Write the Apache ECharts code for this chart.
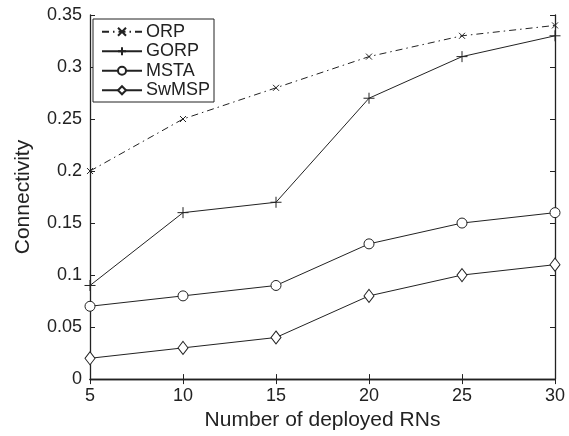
<!DOCTYPE html>
<html>
<head>
<meta charset="utf-8">
<script src="https://cdn.jsdelivr.net/npm/echarts@6/dist/echarts.min.js"></script>
<style>html,body{margin:0;padding:0;background:#fff}#c{width:569px;height:436px}</style>
</head>
<body>
<div id="c"></div>
<script>
var xValues = [5, 10, 15, 20, 25, 30];
var orp = [0.20, 0.25, 0.28, 0.31, 0.33, 0.34];
var gorp = [0.09, 0.16, 0.17, 0.27, 0.31, 0.33];
var msta = [0.07, 0.08, 0.09, 0.13, 0.15, 0.16];
var swmsp = [0.02, 0.03, 0.04, 0.08, 0.10, 0.11];
var seriesNames = ['ORP', 'GORP', 'MSTA', 'SwMSP'];

function pairs(arr){ return xValues.map(function(x,i){ return [x, arr[i]]; }); }

var FONT = 'Liberation Sans, Arial, Helvetica, sans-serif';
var INK = '#222';
var plusPath = 'path://M0,5L10,5M5,0L5,10';
var crossPath = 'path://M0,0L10,10M10,0L0,10';

var chart = echarts.init(document.getElementById('c'), null, {renderer:'canvas'});
var axisCommon = {
  axisLine:{show:true, lineStyle:{color:INK, width:1.3}},
  axisTick:{show:true, inside:true, length:5, lineStyle:{color:INK, width:1}},
  splitLine:{show:false}
};
chart.setOption({
  animation:false,
  backgroundColor:'#fff',
  grid:{left:90, right:14, top:15, bottom:56, containLabel:false},
  legend:{
    orient:'vertical', left:93, top:19,
    data: seriesNames,
    borderColor:INK, borderWidth:1, borderRadius:0,
    padding:[3,4,2,8],
    itemWidth:40, itemHeight:10, itemGap:0,
    textStyle:{fontFamily:FONT, fontSize:18, color:INK, lineHeight:19.5, padding:[0,0,0,-1]},
    backgroundColor:'#fff'
  },
  xAxis:[
    Object.assign({type:'value', position:'bottom', min:5, max:30, interval:5,
      name:'Number of deployed RNs', nameLocation:'middle', nameGap:30,
      nameTextStyle:{fontFamily:FONT, fontSize:21, color:INK},
      axisLabel:{fontFamily:FONT, fontSize:18, color:INK, margin:8}}, axisCommon),
    Object.assign({type:'value', position:'top', min:5, max:30, interval:5,
      axisLabel:{show:false}}, axisCommon)
  ],
  yAxis:[
    Object.assign({type:'value', position:'left', min:0, max:0.35, interval:0.05,
      name:'Connectivity', nameLocation:'middle', nameGap:56,
      nameTextStyle:{fontFamily:FONT, fontSize:21, color:INK},
      axisLabel:{fontFamily:FONT, fontSize:18, color:INK, margin:8}}, axisCommon),
    Object.assign({type:'value', position:'right', min:0, max:0.35, interval:0.05,
      axisLabel:{show:false}}, axisCommon)
  ],
  series:[
    {name:'ORP', type:'line', data:pairs(orp), symbol:crossPath, symbolSize:6,
      lineStyle:{color:INK, width:1, type:[7,4,1.5,4]},
      itemStyle:{color:'none', borderColor:INK, borderWidth:1}},
    {name:'GORP', type:'line', data:pairs(gorp), symbol:plusPath, symbolSize:11,
      lineStyle:{color:INK, width:1},
      itemStyle:{color:'none', borderColor:INK, borderWidth:1}},
    {name:'MSTA', type:'line', data:pairs(msta), symbol:'circle', symbolSize:10,
      lineStyle:{color:INK, width:1},
      itemStyle:{color:'#fff', borderColor:INK, borderWidth:1}},
    {name:'SwMSP', type:'line', data:pairs(swmsp), symbol:'diamond', symbolSize:[10,13],
      lineStyle:{color:INK, width:1},
      itemStyle:{color:'#fff', borderColor:INK, borderWidth:1}}
  ]
});
</script>
</body>
</html>
